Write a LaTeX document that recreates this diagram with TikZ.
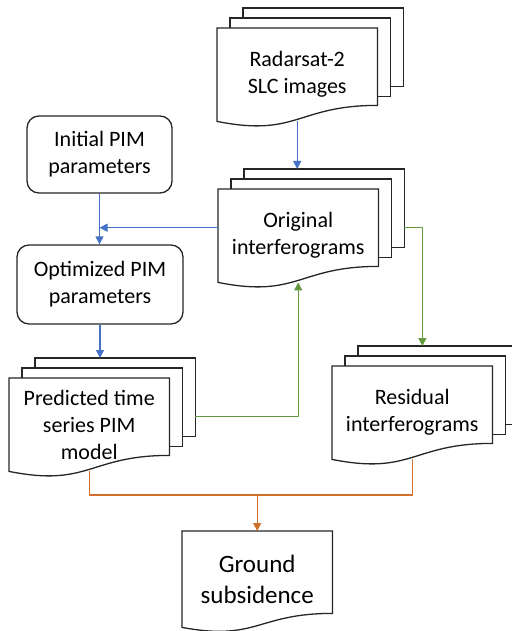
\documentclass[tikz,border=0pt]{standalone}
\usepackage{fontspec}
\setmainfont{Carlito}
\usetikzlibrary{arrows.meta,backgrounds}
\definecolor{flowblue}{HTML}{4472C4}
\definecolor{flowgreen}{HTML}{639A3F}
\definecolor{floworange}{HTML}{D0702A}
\tikzset{
  sheet/.style={draw=black!85, line width=1.3pt, fill=white},
  doc/.style={anchor=north west, minimum width=160pt, minimum height=93pt, inner sep=0pt, align=center, font=\fontsize{22}{27}\selectfont},
  param/.style={draw=black!85, line width=1.3pt, rounded corners=12pt, align=center, inner sep=0pt, font=\fontsize{22}{27}\selectfont},
  flow/.style={line width=1.3pt, -{Triangle[width=8pt,length=8pt]}},
}
\begin{document}
\begin{tikzpicture}[x=1pt, y=-1pt, line join=round]
\path[use as bounding box] (0,0) rectangle (511,631);
% documents, placed by the top left corner of the front sheet
\node[doc] (rad) at (217,28) {Radarsat-2\\SLC images};
\node[doc] (orig) at (218,189) {Original\\interferograms};
\node[doc] (pred) at (9,378) {Predicted time\\series PIM\\model};
\node[doc] (resid) at (332,366) {Residual\\interferograms};
\node[doc, minimum width=150pt, minimum height=96pt, font=\fontsize{25}{31}\selectfont] (ground) at (182,531) {Ground\\subsidence};
% parameter boxes
\node[param, minimum width=145pt, minimum height=77pt] (init) at (99.5,154.5) {Initial PIM\\parameters};
\node[param, minimum width=166pt, minimum height=79pt] (opt) at (100,284.5) {Optimized PIM\\parameters};
\begin{pgfonlayer}{background}
\foreach \n in {rad,orig,pred,resid}{
  \draw[sheet] ([shift={(26,-20)}]\n.north west) rectangle ([shift={(26,-35)}]\n.south east);
  \draw[sheet] ([shift={(13,-10)}]\n.north west) rectangle ([shift={(13,-25)}]\n.south east);
  \coordinate (\n-back) at ([shift={(26,-20)}]\n.north);
  \coordinate (\n-l) at ([shift={(0,-8)}]\n.west);
  \coordinate (\n-r) at ([shift={(26,-8)}]\n.east);
}
\foreach \n/\d in {rad/16,orig/16,pred/16,resid/16,ground/14}{
  \draw[sheet] (\n.south west) -- (\n.north west) -- (\n.north east) -- ([shift={(0,-\d)}]\n.south east)
    .. controls ([shift={(0,-\d)}]\n.south) and ([shift={(0,\d)}]\n.south) .. (\n.south west) -- cycle;
}
\end{pgfonlayer}
% connectors
\draw[flow, flowblue] (rad.south) -- (rad.south |- orig-back);
\draw[flow, flowblue] (init.south) -- (init.south |- opt.north);
\draw[flow, flowblue] (orig-l) -- (orig-l -| init.south);
\draw[flow, flowblue] (opt.south) -- (opt.south |- pred-back);
\coordinate (bend) at ([xshift=18pt]orig-r);
\draw[flow, flowgreen] (orig-r) -- (bend) -- (bend |- resid-back);
\draw[flow, flowgreen] (pred-r) -| (orig.south);
\coordinate (merge) at ([yshift=36pt]ground.north);
\draw[line width=1.3pt, floworange] (pred.south) |- (merge) -| (resid.south);
\draw[flow, floworange] (merge) -- (ground.north);
\end{tikzpicture}
\end{document}
